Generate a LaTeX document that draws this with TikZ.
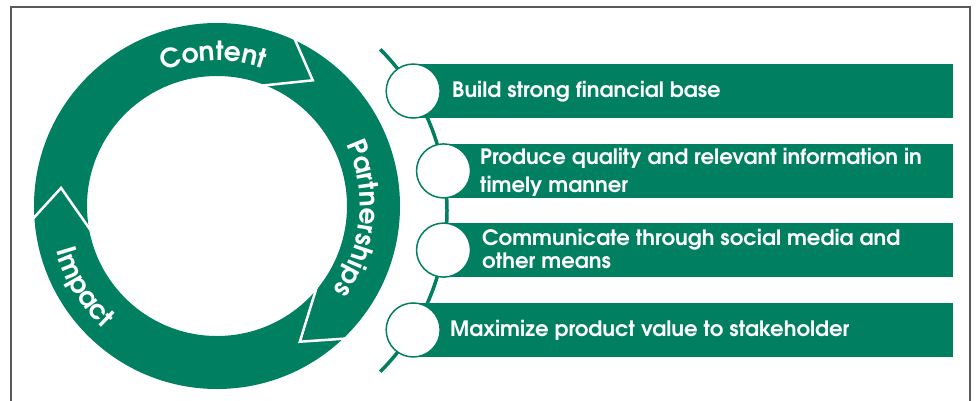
\documentclass[tikz,border=0pt]{standalone}
\usepackage{fontspec}
\setmainfont{TeX Gyre Adventor}
\usetikzlibrary{decorations.text}
\definecolor{grn}{RGB}{0,128,96}
\begin{document}
\begin{tikzpicture}[x=1pt,y=1pt,
  bar/.style={fill=grn, draw=none},
  bub/.style={circle, draw=grn, line width=1.5pt, fill=white, minimum size=54pt, inner sep=0pt},
  lbl/.style={anchor=base west, text=white, font=\bfseries\fontsize{21.2}{24}\selectfont, inner sep=0pt},
  sep/.style={white, line width=2.5pt, line join=miter},
  ringlbl/.style={decorate, decoration={text along path, text align=center}}]
\useasboundingbox (0,0) rectangle (976,400);
\fill[white] (0,0) rectangle (976,400);
% frame
\draw[black!65, line width=1.2pt] (11,-5) -- (11,393) -- (970,393) -- (970,-5);
% ring
\coordinate (C) at (217,194);
\fill[grn, even odd rule] (C) circle[radius=183] (C) circle[radius=130];
% arrow heads
\draw[sep] ([shift={(65.7:186)}]C) -- ([shift={(52.7:158)}]C) -- ([shift={(70:128)}]C);
\draw[sep] ([shift={(-45.4:186)}]C) -- ([shift={(-58.6:159)}]C) -- ([shift={(-38.5:128)}]C);
\draw[sep] ([shift={(184.4:186)}]C) -- ([shift={(173.4:157)}]C) -- ([shift={(191.6:128)}]C);
% ring labels
\path[ringlbl, decoration={text={|\bfseries\fontsize{26.5}{26.5}\selectfont\color{white}|Content}}]
  ([shift={(160:145)}]C) arc[start angle=160, end angle=23, radius=145];
\path[ringlbl, decoration={text={|\bfseries\fontsize{26.5}{26.5}\selectfont\color{white}|Partnerships}}]
  ([shift={(60:143)}]C) arc[start angle=60, end angle=-70.4, radius=143];
\path[ringlbl, decoration={text={|\bfseries\fontsize{26.5}{26.5}\selectfont\color{white}|Impact}}]
  ([shift={(160:167)}]C) arc[start angle=160, end angle=262.8, radius=167];
% right-hand timeline
\coordinate (A) at (219,189.5);
\draw[grn, line width=3.5pt] ([shift={(45:228)}]A) arc[start angle=45, end angle=-45, radius=228];
\coordinate (p1) at ([shift={(31.6:228)}]A);
\coordinate (p2) at ([shift={(10:228)}]A);
\coordinate (p3) at ([shift={(-10:228)}]A);
\coordinate (p4) at ([shift={(-31.6:228)}]A);
\fill[bar] ([yshift=-27pt]p1) rectangle ([yshift=27pt]p1 -| 953,0);
\fill[bar] ([yshift=-27pt]p2) rectangle ([yshift=27pt]p2 -| 953,0);
\fill[bar] ([yshift=-27pt]p3) rectangle ([yshift=27pt]p3 -| 953,0);
\fill[bar] ([yshift=-27pt]p4) rectangle ([yshift=27pt]p4 -| 953,0);
\node[bub] (c1) at (p1) {};
\node[bub] (c2) at (p2) {};
\node[bub] (c3) at (p3) {};
\node[bub] (c4) at (p4) {};
\node[lbl] (t1) at (452,302.5) {Build strong financial base};
\node[lbl] (t2) at (480,235.5) {Produce quality and relevant information in};
\node[lbl] (t2b) at (480,208) {timely manner};
\node[lbl] (t3) at (482,155) {Communicate through social media and};
\node[lbl] (t3b) at (482,131.7) {other means};
\node[lbl] (t4) at (450,63.3) {Maximize product value to stakeholder};
\end{tikzpicture}
\end{document}
